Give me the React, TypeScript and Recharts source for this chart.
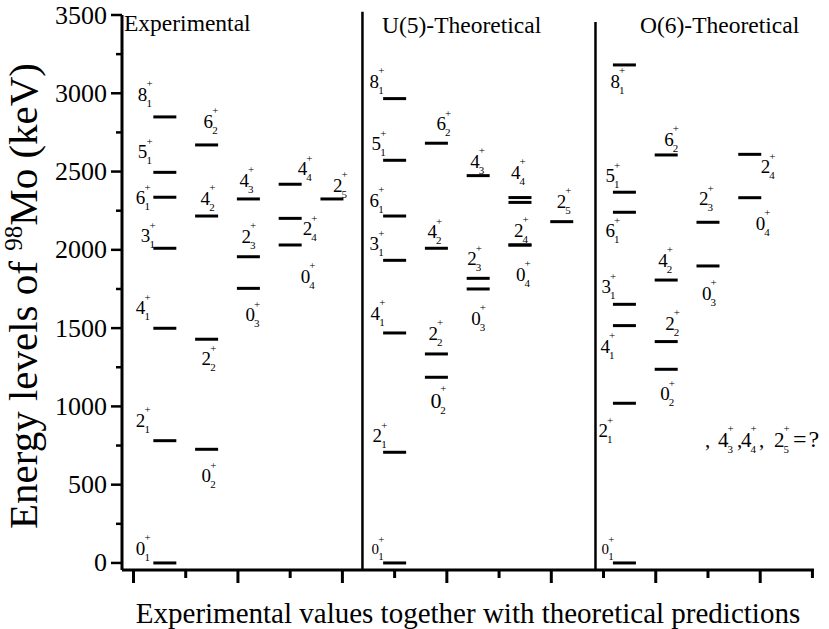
import React from 'react';
import { ComposedChart, XAxis, YAxis, Scatter, ReferenceLine } from 'recharts';

const FONT = '"Liberation Serif", "Times New Roman", Times, serif';

// ---------- axes ----------
const yTicks = [0, 250, 500, 750, 1000, 1250, 1500, 1750, 2000, 2250, 2500, 2750, 3000, 3250, 3500];
const xTicks = [1, 1.5, 2, 2.5, 3, 3.5, 4, 4.5, 5, 5.5, 6, 6.5, 7, 7.5];
const separators = [3.192, 5.423];
const panelTitles = ['Experimental', 'U(5)-Theoretical', 'O(6)-Theoretical'];
const xAxisTitle = 'Experimental values together with theoretical predictions';

// ---------- Experimental ----------
const expColumns = [1.3, 1.7, 2.1, 2.5, 2.9];
const expLabels = ['8_1', '5_1', '6_1', '3_1', '4_1', '2_1', '0_1', '6_2', '4_2', '2_2', '0_2', '4_3', '2_3', '0_3', '4_4', '2_4', '0_4', '2_5'];
const expColumnOf = [0, 0, 0, 0, 0, 0, 0, 1, 1, 1, 1, 2, 2, 2, 3, 3, 3, 4];
const expEnergies = [2849, 2495, 2336, 2010, 1499, 781, 0, 2670, 2216, 1429, 726, 2325, 1956, 1754, 2419, 2201, 2031, 2325];

// ---------- U(5) ----------
const u5Columns = [3.5, 3.9, 4.3, 4.7, 5.1];
const u5Labels = ['8_1', '5_1', '6_1', '3_1', '4_1', '2_1', '0_1', '6_2', '4_2', '2_2', '0_2', '4_3', '2_3', '0_3', '4_4', '', '2_4', '0_4', '2_5'];
const u5ColumnOf = [0, 0, 0, 0, 0, 0, 0, 1, 1, 1, 1, 2, 2, 2, 3, 3, 3, 3, 4];
const u5Energies = [2966, 2572, 2216, 1933, 1469, 707, 0, 2681, 2010, 1335, 1186, 2474, 1818, 1750, 2334, 2303, 2031, 2031, 2180];

// ---------- O(6) ----------
const o6Columns = [5.7, 6.1, 6.5, 6.9];
const o6Labels = ['8_1', '5_1', '6_1', '3_1', '4_1', '2_1', '0_1', '6_2', '4_2', '2_2', '0_2', '2_3', '0_3', '2_4', '0_4'];
const o6ColumnOf = [0, 0, 0, 0, 0, 0, 0, 1, 1, 1, 1, 2, 2, 3, 3];
const o6Energies = [3181, 2368, 2240, 1652, 1516, 1020, 0, 2606, 1807, 1414, 1237, 2176, 1897, 2610, 2333];

// ---------- label placement (style, px offsets from level centre) ----------
const expLabelPlace = [
  [-27, -16], [-27, -14], [-29, 7], [-24, -6], [-29, -14], [-29, -14], [-29, -8],
  [-3, -17], [-6, -11], [-5, 26], [-5, 33],
  [-9, -12], [-7, -14], [-3, 33],
  [7.5, -9], [12.5, 17], [10.5, 38],
  [1, -7],
];
const u5LabelPlace = [
  [-25, -11], [-23, -10], [-25, -9], [-25, -10], [-24, -13], [-22, -10], [-23, -9, 15],
  [0, -13], [-9, -10], [-8, -14], [-6, 31, 22],
  [-8, -8], [-11, -13], [-7, 36],
  [-9, -19], [0, 0], [-6, -8], [-4, 36],
  [-5, -14],
];
const o6LabelPlace = [
  [-14, 23], [-19, -10], [-19, 25], [-23, -11], [-24, 27], [-26, 34], [-23, -9, 15],
  [-2, -9], [-8, -13], [-1, -12], [-6, 31],
  [-9, -17], [-6, 34],
  [11, 19], [6, 32],
];

const build = (cols: number[], colOf: number[], energies: number[], labels: string[], place: number[][]) =>
  energies.map((E, i) => ({ x: cols[colOf[i]], E, label: labels[i], place: place[i] }));

const expData = build(expColumns, expColumnOf, expEnergies, expLabels, expLabelPlace);
const u5Data = build(u5Columns, u5ColumnOf, u5Energies, u5Labels, u5LabelPlace);
const o6Data = build(o6Columns, o6ColumnOf, o6Energies, o6Labels, o6LabelPlace);

const StateLabel = ({ x, y, J, n, size = 19, small = 11 }: any) => (
  <g fontFamily={FONT} fill="#000">
    <text x={x} y={y} fontSize={size}>{J}</text>
    <text x={x + size * 0.45} y={y - size * 0.72} fontSize={small}>+</text>
    <text x={x + size * 0.45} y={y + 6} fontSize={small}>{n}</text>
  </g>
);

const renderLevel = (props: any) => {
  const { cx, cy, payload } = props;
  if (cx == null || cy == null) return <g />;
  const parts = payload.label ? payload.label.split('_') : null;
  const [dx, dy, size] = payload.place;
  return (
    <g>
      <line x1={cx - 11.5} x2={cx + 11.5} y1={cy} y2={cy} stroke="#000" strokeWidth={3} />
      {parts && <StateLabel x={cx + dx} y={cy + dy} J={parts[0]} n={parts[1]} size={size || 19} />}
    </g>
  );
};

const XTick = (props: any) => {
  const { x, y, payload } = props;
  const major = Math.abs(payload.value - Math.round(payload.value)) < 1e-6;
  return <line x1={x} x2={x} y1={y} y2={y + (major ? 13 : 8)} stroke="#000" strokeWidth={3} />;
};

const YTick = (props: any) => {
  const { x, y, payload } = props;
  const major = payload.value % 500 === 0;
  return (
    <g>
      <line x1={x} x2={x - (major ? 11 : 6)} y1={y} y2={y} stroke="#000" strokeWidth={2.5} />
      {major && (
        <text x={107} y={y + 8.5} textAnchor="end" fontSize={26} fontFamily={FONT} fill="#000">
          {payload.value}
        </text>
      )}
    </g>
  );
};

export default function App() {
  return (
    <div style={{ position: 'absolute', left: 0, top: 0, width: 829, height: 629, background: '#fff' }}>
      <ComposedChart width={829} height={629} margin={{ top: 15, right: 15, bottom: 0, left: 0 }}>
        <XAxis
          type="number"
          dataKey="x"
          domain={[0.89, 7.515]}
          ticks={xTicks}
          interval={0}
          allowDataOverflow
          height={59}
          axisLine={{ stroke: '#000', strokeWidth: 3 }}
          tickLine={false}
          tickSize={0}
          tickMargin={0}
          tick={(p: any) => <XTick {...p} />}
        />
        <YAxis
          type="number"
          dataKey="E"
          domain={[-45, 3500]}
          ticks={yTicks}
          interval={0}
          allowDataOverflow
          width={122}
          axisLine={{ stroke: '#000', strokeWidth: 3 }}
          tickLine={false}
          tickSize={0}
          tickMargin={0}
          tick={(p: any) => <YTick {...p} />}
        />
        <ReferenceLine
          segment={[{ x: separators[0], y: -45 }, { x: separators[0], y: 3520 }]}
          stroke="#000"
          strokeWidth={2.5}
          ifOverflow="visible"
        />
        <ReferenceLine
          segment={[{ x: separators[1], y: -45 }, { x: separators[1], y: 3455 }]}
          stroke="#000"
          strokeWidth={2.5}
          ifOverflow="visible"
        />
        <Scatter data={expData} shape={renderLevel} isAnimationActive={false} />
        <Scatter data={u5Data} shape={renderLevel} isAnimationActive={false} />
        <Scatter data={o6Data} shape={renderLevel} isAnimationActive={false} />
      </ComposedChart>
      <svg
        width={829}
        height={629}
        style={{ position: 'absolute', left: 0, top: 0, pointerEvents: 'none' }}
      >
        <g fontFamily={FONT} fill="#000">
          <text x={124} y={31} fontSize={23.5}>{panelTitles[0]}</text>
          <text x={382} y={33} fontSize={23.5}>{panelTitles[1]}</text>
          <text x={640} y={33} fontSize={23.5}>{panelTitles[2]}</text>
          <text x={468} y={623} fontSize={29} textAnchor="middle">{xAxisTitle}</text>
          <text transform="translate(37,296) rotate(-90)" textAnchor="middle" fontSize={41}>
            {'Energy levels of '}
            <tspan fontSize={25} dy={-15}>98</tspan>
            <tspan dy={15}>{'Mo (keV)'}</tspan>
          </text>
          <text x={705} y={447} fontSize={21}>,</text>
          <text x={737} y={447} fontSize={21}>,</text>
          <text x={759} y={447} fontSize={21}>,</text>
          <text x={793} y={447} fontSize={24} letterSpacing={2}>=?</text>
        </g>
        <StateLabel x={718} y={447} J="4" n="3" size={21} />
        <StateLabel x={741} y={447} J="4" n="4" size={21} />
        <StateLabel x={774} y={447} J="2" n="5" size={21} />
      </svg>
    </div>
  );
}
